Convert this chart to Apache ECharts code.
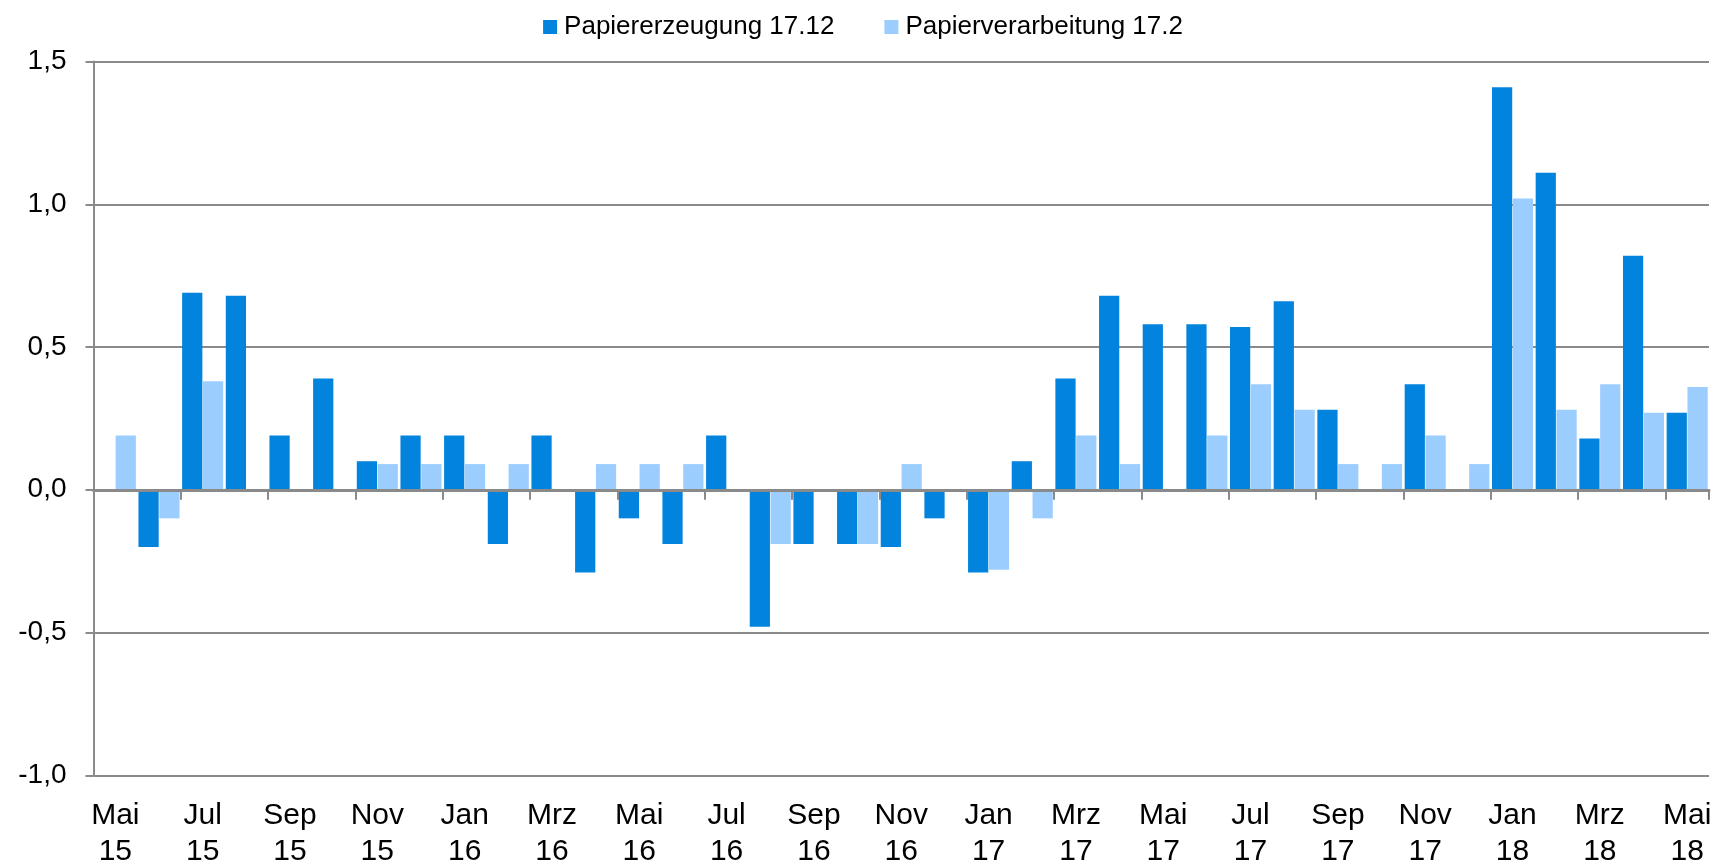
<!DOCTYPE html>
<html>
<head>
<meta charset="utf-8">
<script src="https://cdn.jsdelivr.net/npm/echarts@6/dist/echarts.min.js"></script>
<style>
html,body{margin:0;padding:0;background:#fff;}
#chart{width:1726px;height:865px;}
</style>
</head>
<body>
<div id="chart"></div>
<script>
const months = ['Mai','Jun','Jul','Aug','Sep','Okt','Nov','Dez','Jan','Feb','Mrz','Apr',
  'Mai','Jun','Jul','Aug','Sep','Okt','Nov','Dez','Jan','Feb','Mrz','Apr',
  'Mai','Jun','Jul','Aug','Sep','Okt','Nov','Dez','Jan','Feb','Mrz','Apr','Mai'];
const years = ['15','15','15','15','15','15','15','15','16','16','16','16',
  '16','16','16','16','16','16','16','16','17','17','17','17',
  '17','17','17','17','17','17','17','17','18','18','18','18','18'];
const seriesNames = ['Papiererzeugung 17.12','Papierverarbeitung 17.2'];
const papiererzeugung = [0,-0.2,0.69,0.68,0.19,0.39,0.1,0.19,0.19,-0.19,0.19,-0.29,
  -0.1,-0.19,0.19,-0.48,-0.19,-0.19,-0.2,-0.1,-0.29,0.1,0.39,0.68,
  0.58,0.58,0.57,0.66,0.28,0,0.37,0,1.41,1.11,0.18,0.82,0.27];
const papierverarbeitung = [0.19,-0.1,0.38,0,0,0,0.09,0.09,0.09,0.09,0,0.09,
  0.09,0.09,0,-0.19,0,-0.19,0.09,0,-0.28,-0.1,0.19,0.09,
  0,0.19,0.37,0.28,0.09,0.09,0.19,0.09,1.02,0.28,0.37,0.27,0.36];
const yTicks = {min:-1, max:1.5, interval:0.5};

const categories = months.map((m,i)=>m+'\n'+years[i]);
const FONT = '"Liberation Sans", Arial, sans-serif';
const GRAY = '#8a8a8a';

const chart = echarts.init(document.getElementById('chart'), null, {renderer:'canvas'});
chart.setOption({
  animation:false,
  backgroundColor:'#fff',
  textStyle:{fontFamily:FONT},
  legend:{
    top:9, left:'center',
    itemWidth:14, itemHeight:14, itemGap:50,
    icon:'rect',
    textStyle:{fontFamily:FONT, fontSize:26, color:'#000', lineHeight:26, padding:[0,0,0,2]},
    data:seriesNames
  },
  grid:{left:93.5, right:17, top:61.5, bottom:89.7, containLabel:false, outerBoundsMode:'none'},
  xAxis:[
    {
      type:'category', data:categories, z:5,
      axisLine:{show:true, onZero:true, lineStyle:{color:GRAY, width:3}},
      axisTick:{show:true, interval:1, length:10, lineStyle:{color:GRAY, width:2}},
      axisLabel:{show:false},
      splitLine:{show:false}
    },
    {
      type:'category', data:categories, position:'bottom',
      axisLine:{show:false, onZero:false},
      axisTick:{show:false},
      axisLabel:{show:true, interval:1, fontFamily:FONT, fontSize:30, lineHeight:36, color:'#000', margin:22},
      splitLine:{show:false}
    }
  ],
  yAxis:{
    type:'value', min:yTicks.min, max:yTicks.max, interval:yTicks.interval,
    axisLine:{show:true, lineStyle:{color:GRAY, width:2}},
    axisTick:{show:true, length:8, lineStyle:{color:GRAY, width:2}},
    axisLabel:{fontFamily:FONT, fontSize:28, color:'#000', margin:27,
      formatter:v=>v.toFixed(1).replace('.',',')},
    splitLine:{show:true, lineStyle:{color:GRAY, width:2}}
  },
  series:[
    {name:seriesNames[0], type:'bar', xAxisIndex:0, data:papiererzeugung,
      barGap:'3%', barCategoryGap:'6%', itemStyle:{color:'#0283DD'}},
    {name:seriesNames[1], type:'bar', xAxisIndex:0, data:papierverarbeitung,
      barGap:'3%', barCategoryGap:'6%', itemStyle:{color:'#9CCDFF'}}
  ]
});
</script>
</body>
</html>
